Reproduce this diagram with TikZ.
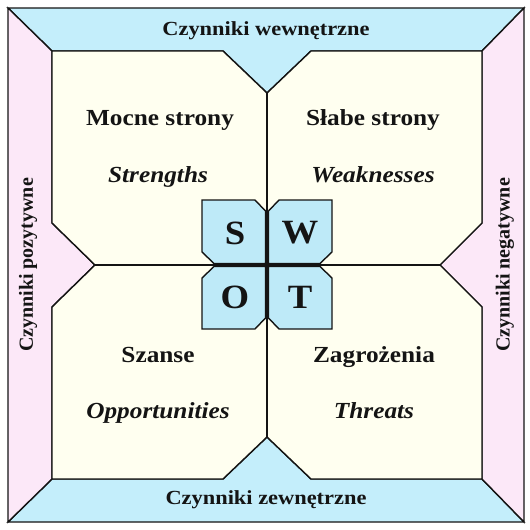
\documentclass[tikz,border=0pt]{standalone}
\usepackage{fontspec}
\setmainfont{Liberation Serif}
\definecolor{frameblue}{HTML}{C4EEFB}
\definecolor{framepink}{HTML}{FCE8F8}
\definecolor{innerbg}{HTML}{FFFFF0}
\definecolor{swotblue}{HTML}{BEEAF8}
\definecolor{inkc}{HTML}{141414}
\begin{document}
\begin{tikzpicture}[x=1pt,y=-1pt,
  edge/.style={draw=inkc,line width=1.4pt,line join=miter},
  lbl/.style={font=\fontsize{20}{24}\selectfont\bfseries,inner sep=0pt,anchor=base,text=inkc,xscale=1.12},
  qlbl/.style={font=\fontsize{23}{27}\selectfont\bfseries,inner sep=0pt,anchor=base,text=inkc,xscale=1.1},
  ilbl/.style={font=\fontsize{23}{27}\selectfont\bfseries\itshape,inner sep=0pt,anchor=base,text=inkc,xscale=1.1},
  side/.style={font=\fontsize{20}{24}\selectfont\bfseries,inner sep=0pt,rotate=90,text=inkc},
  letter/.style={font=\fontsize{34}{38}\selectfont\bfseries,inner sep=0pt,text=inkc,xscale=1.08}]
\useasboundingbox (0,0) rectangle (530,530);
\fill[white] (0,0) rectangle (530,530);
% frame pieces
\filldraw[edge,fill=frameblue] (8,8) -- (524,8) -- (482,51) -- (311,51) -- (267,93) -- (223,51) -- (52,51) -- cycle;
\filldraw[edge,fill=frameblue] (8,522) -- (524,522) -- (482,479) -- (311,479) -- (267,437) -- (223,479) -- (52,479) -- cycle;
\filldraw[edge,fill=framepink] (8,8) -- (52,51) -- (52,223) -- (95,265) -- (52,307) -- (52,479) -- (8,522) -- cycle;
\filldraw[edge,fill=framepink] (524,8) -- (482,51) -- (482,223) -- (440,265) -- (482,307) -- (482,479) -- (524,522) -- cycle;
% inner area
\filldraw[edge,fill=innerbg] (52,51) -- (223,51) -- (267,93) -- (311,51) -- (482,51) -- (482,223) -- (440,265) -- (482,307) -- (482,479) -- (311,479) -- (267,437) -- (223,479) -- (52,479) -- (52,307) -- (95,265) -- (52,223) -- cycle;
% SWOT boxes
\filldraw[edge,fill=swotblue] (202,200) -- (255,200) -- (265.5,211) -- (265.5,263.5) -- (214,263.5) -- (202,252) -- cycle;
\filldraw[edge,fill=swotblue] (332,200) -- (279,200) -- (268.5,211) -- (268.5,263.5) -- (320,263.5) -- (332,252) -- cycle;
\filldraw[edge,fill=swotblue] (202,329) -- (255,329) -- (265.5,318) -- (265.5,266.5) -- (214,266.5) -- (202,278) -- cycle;
\filldraw[edge,fill=swotblue] (332,329) -- (279,329) -- (268.5,318) -- (268.5,266.5) -- (320,266.5) -- (332,278) -- cycle;
% cross lines
\coordinate (ct) at (267,93);
\coordinate (cb) at (267,437);
\coordinate (cl) at (95,265);
\coordinate (cr) at (440,265);
\draw[edge,line width=1.1pt] (ct) -- (cb);
\draw[edge,line width=1.1pt] (cl) -- (cr);
% letters
\node[letter] (s) at (235,233) {S};
\node[letter] (w) at (300,233) {W};
\node[letter] (o) at (235,297) {O};
\node[letter] (t) at (300,297) {T};
% texts
\node[lbl] (top) at (266,35) {Czynniki wewnętrzne};
\node[lbl] (bot) at (266,504) {Czynniki zewnętrzne};
\node[side] (left) at (28,265) {Czynniki pozytywne};
\node[side] (right) at (505,265) {Czynniki negatywne};
\node[qlbl] (ms) at (160,125) {Mocne strony};
\node[ilbl] (st) at (158,182) {Strengths};
\node[qlbl] (ss) at (373,125) {Słabe strony};
\node[ilbl] (we) at (373,182) {Weaknesses};
\node[qlbl] (sz) at (158,362) {Szanse};
\node[ilbl] (op) at (158,418) {Opportunities};
\node[qlbl] (za) at (374,362) {Zagrożenia};
\node[ilbl] (th) at (374,418) {Threats};
\end{tikzpicture}
\end{document}
